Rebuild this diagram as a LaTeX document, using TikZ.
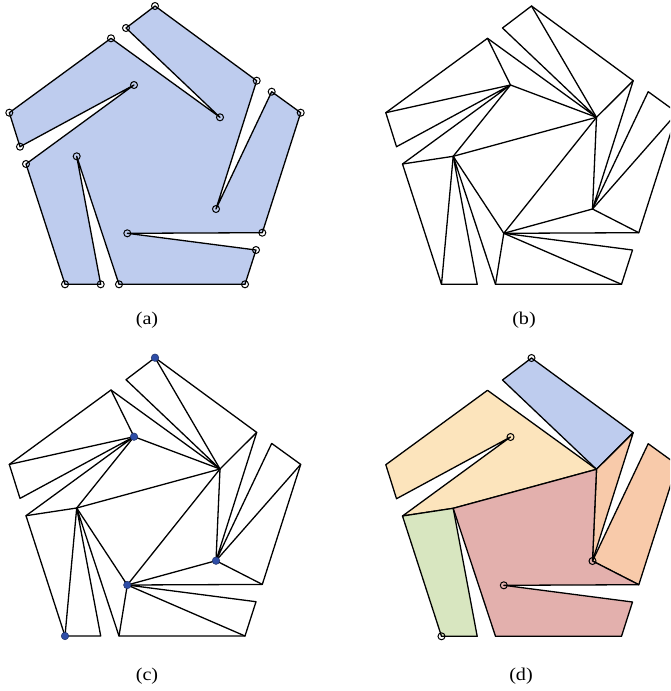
\documentclass[tikz,border=0pt]{standalone}
\usepackage{fontspec}
\setmainfont{Liberation Serif}
\definecolor{fblue}{HTML}{BECCEE}
\definecolor{fyellow}{HTML}{FCE4BC}
\definecolor{fgreen}{HTML}{D8E6C0}
\definecolor{forange}{HTML}{F8CAAA}
\definecolor{fpink}{HTML}{E3B0AD}
\definecolor{gdot}{HTML}{2E4DA7}
\newcommand\mkpts[3]{%
  \foreach \i/\px/\py in {1/155/6, 2/256.7/80.7, 3/216/209, 4/271.7/91.7,
    5/300.7/112.7, 6/262.3/232.7, 7/127.3/233.3, 8/256/250, 9/245/284.3,
    10/119/284.3, 11/76.7/156.3, 12/100.7/284.3, 13/65/284.3, 14/26/164,
    15/134/85, 16/20/146.7, 17/9.3/112.7, 18/111/38.3, 19/220/117.3, 20/126/28}
  {\coordinate (#1\i) at ({\px+#2},{\py+#3});}}
\newcommand\polypath[1]{(#11) -- (#12) -- (#13) -- (#14) -- (#15) -- (#16) -- (#17)
  -- (#18) -- (#19) -- (#110) -- (#111) -- (#112) -- (#113) -- (#114) -- (#115)
  -- (#116) -- (#117) -- (#118) -- (#119) -- (#120) -- cycle}
\newcommand\diags[1]{%
  \foreach \u/\v in {1/19, 2/19, 18/15, 15/19, 17/15, 14/11, 15/11, 11/19, 19/3,
    19/7, 11/7, 11/13, 10/7, 7/9, 7/3, 3/6, 3/5}
  {\draw[edge] (#1\u) -- (#1\v);}}
\tikzset{
  edge/.style={line width=1.3pt, line join=round, line cap=round},
  vcirc/.style={circle, draw, line width=1pt, minimum size=7pt, inner sep=0pt},
  gdotst/.style={circle, draw=gdot!60!black, fill=gdot, line width=0.5pt, minimum size=7.5pt, inner sep=0pt},
  captxt/.style={font=\fontsize{18}{20}\selectfont, xscale=1.12}
}
\begin{document}
\begin{tikzpicture}[x=1pt,y=-1pt]
\useasboundingbox (0,0) rectangle (670,691);
\clip (0,0) rectangle (670,691);
\mkpts{a}{0}{0}
\mkpts{b}{376.5}{0}
\mkpts{c}{0}{351.7}
\mkpts{d}{376.5}{352}
% (a)
\fill[fblue] \polypath{a};
\draw[edge] \polypath{a};
\foreach \i in {1,...,20} {\node[vcirc] (ca\i) at (a\i) {};}
% (b)
\draw[edge] \polypath{b};
\diags{b}
% (c)
\draw[edge] \polypath{c};
\diags{c}
\foreach \i in {1,15,3,7,13} {\node[gdotst] (gc\i) at (c\i) {};}
% (d)
\filldraw[edge, fill=fblue] (d20) -- (d1) -- (d2) -- (d19) -- cycle;
\filldraw[edge, fill=fyellow] (d18) -- (d19) -- (d11) -- (d14) -- (d15) -- (d16) -- (d17) -- cycle;
\filldraw[edge, fill=fgreen] (d14) -- (d11) -- (d12) -- (d13) -- cycle;
\filldraw[edge, fill=forange] (d19) -- (d2) -- (d3) -- cycle;
\filldraw[edge, fill=forange] (d3) -- (d4) -- (d5) -- (d6) -- cycle;
\filldraw[edge, fill=fpink] (d19) -- (d3) -- (d6) -- (d7) -- (d8) -- (d9) -- (d10) -- (d11) -- cycle;
\foreach \i in {1,15,3,7,13} {\node[vcirc] (cd\i) at (d\i) {};}
% captions
\node[captxt] (la) at (147,320) {(a)};
\node[captxt] (lb) at (524,320) {(b)};
\node[captxt] (lc) at (147,676) {(c)};
\node[captxt] (ld) at (521,676) {(d)};
\end{tikzpicture}
\end{document}
